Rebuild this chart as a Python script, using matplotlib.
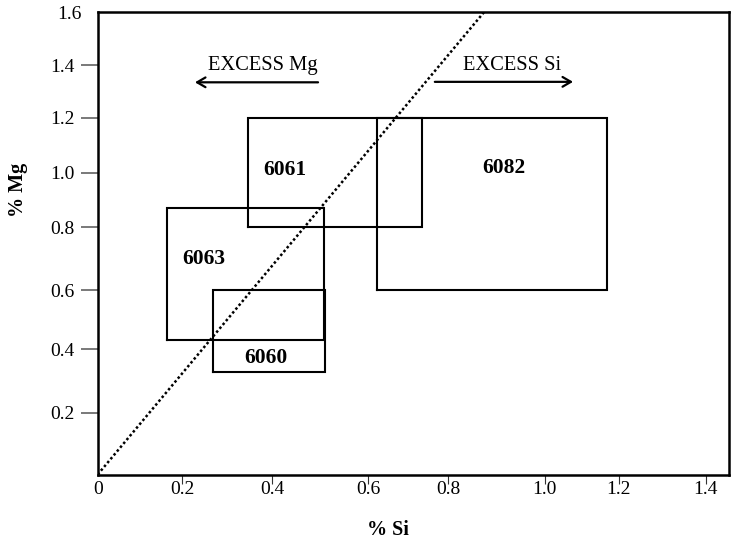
import numpy as np
import matplotlib
matplotlib.use("Agg")
import matplotlib.pyplot as plt

# ---- data ----
alloys = ["6061", "6082", "6063", "6060"]
si_min = [0.346, 0.623, 0.165, 0.269]
si_max = [0.734, 1.170, 0.508, 0.510]
mg_min = [0.800, 0.600, 0.431, 0.329]
mg_max = [1.200, 1.200, 0.869, 0.600]

# label anchor points (data units) for the alloy names
label_si = [0.426, 0.916, 0.247, 0.386]
label_mg = [1.010, 1.017, 0.700, 0.373]

# stoichiometric Mg2Si guide line end points
line_si = [0.0, 0.875]
line_mg = [0.0, 1.60]

x_ticks = [0.2, 0.4, 0.6, 0.8, 1.0, 1.2, 1.4]
x_tick_labels = ["0.2", "0.4", "0.6", "0.8", "1.0", "1.2", "1.4"]
y_ticks = [0.2, 0.4, 0.6, 0.8, 1.0, 1.2, 1.4]
y_tick_labels = ["0.2", "0.4", "0.6", "0.8", "1.0", "1.2", "1.4"]

# ---- the hand-drawn axes are not evenly spaced: piecewise-linear scales ----
x_knot_vals = [0, 0.2, 0.4, 0.6, 0.8, 1.0, 1.2, 1.4, 1.6]
x_knot_pos = [0, 84.6, 174.6, 270.6, 350.3, 447.0, 521.0, 608.0, 695.0]
y_knot_vals = [0, 0.2, 0.4, 0.6, 0.8, 1.0, 1.2, 1.4, 1.6]
y_knot_pos = [0, 61.8, 125.2, 184.5, 247.5, 301.8, 356.8, 409.5, 462.5]


def make_scale(vals, pos):
    vals = np.asarray(vals, float)
    pos = np.asarray(pos, float)

    def fwd(v):
        v = np.asarray(v, float)
        out = np.interp(v, vals, pos)
        lo = v < vals[0]
        hi = v > vals[-1]
        s0 = (pos[1] - pos[0]) / (vals[1] - vals[0])
        s1 = (pos[-1] - pos[-2]) / (vals[-1] - vals[-2])
        out = np.where(lo, pos[0] + (v - vals[0]) * s0, out)
        out = np.where(hi, pos[-1] + (v - vals[-1]) * s1, out)
        return out

    def inv(p):
        p = np.asarray(p, float)
        out = np.interp(p, pos, vals)
        lo = p < pos[0]
        hi = p > pos[-1]
        s0 = (vals[1] - vals[0]) / (pos[1] - pos[0])
        s1 = (vals[-1] - vals[-2]) / (pos[-1] - pos[-2])
        out = np.where(lo, vals[0] + (p - pos[0]) * s0, out)
        out = np.where(hi, vals[-1] + (p - pos[-1]) * s1, out)
        return out

    return fwd, inv


plt.rcParams["font.family"] = ["Liberation Serif", "DejaVu Serif"]

fig = plt.figure(figsize=(7.32, 5.41), dpi=100)
ax = fig.add_axes([0.1335, 0.1229, 0.8624, 0.8549])

ax.set_xscale("function", functions=make_scale(x_knot_vals, x_knot_pos))
ax.set_yscale("function", functions=make_scale(y_knot_vals, y_knot_pos))
ax.set_xlim(0, 1.454)
ax.set_ylim(0, 1.6)

# rectangles
for a, x0, x1, y0, y1 in zip(alloys, si_min, si_max, mg_min, mg_max):
    ax.plot([x0, x1, x1, x0, x0], [y0, y0, y1, y1, y0],
            color="black", lw=1.5, solid_joinstyle="miter")

for a, lx, ly in zip(alloys, label_si, label_mg):
    ax.text(lx, ly, a, ha="center", va="center", fontsize=15.5,
            fontweight="bold")

# diagonal dotted line
ax.plot(line_si, line_mg, color="black", lw=1.8, linestyle=(0, (1, 1)))

# excess arrows
ax.annotate("", xy=(0.154, 0.848), xytext=(0.349, 0.848),
            xycoords="axes fraction",
            arrowprops=dict(arrowstyle="->,head_length=0.6,head_width=0.35",
                            lw=1.6, color="black", shrinkA=0, shrinkB=0))
ax.annotate("", xy=(0.753, 0.849), xytext=(0.534, 0.849),
            xycoords="axes fraction",
            arrowprops=dict(arrowstyle="->,head_length=0.6,head_width=0.35",
                            lw=1.6, color="black", shrinkA=0, shrinkB=0))
ax.text(0.262, 0.885, "EXCESS Mg", transform=ax.transAxes, ha="center",
        va="center", fontsize=14.8)
ax.text(0.657, 0.885, "EXCESS Si", transform=ax.transAxes, ha="center",
        va="center", fontsize=14.8)

# ticks
ax.set_xticks(x_ticks)
ax.set_xticklabels(x_tick_labels)
ax.set_xticks([0], minor=True)
ax.set_xticklabels(["0"], minor=True)
ax.set_yticks(y_ticks)
ax.set_yticklabels(y_tick_labels)
ax.set_yticks([1.6], minor=True)
ax.set_yticklabels(["1.6"], minor=True)

ax.tick_params(axis="x", which="major", direction="out", length=6.5,
               width=0.8, color="#333333", pad=-1.5, labelsize=14)
ax.tick_params(axis="x", which="minor", length=0, pad=5, labelsize=14)
ax.tick_params(axis="y", which="major", direction="out", length=12.2,
               width=1.1, color="#555555", pad=4.3, labelsize=14)
ax.tick_params(axis="y", which="minor", length=0, pad=11.3, labelsize=14)

for s in ax.spines.values():
    s.set_linewidth(1.8)
    s.set_color("black")

ax.set_xlabel("% Si", fontsize=14.5, fontweight="bold")
ax.set_ylabel("% Mg", fontsize=14.5, fontweight="bold")
ax.xaxis.set_label_coords(0.46, -0.12)
ax.yaxis.set_label_coords(-0.126, 0.615)
ax.xaxis.label.set_va("center")
ax.yaxis.label.set_va("center")

fig.savefig("out.png", dpi=100)
